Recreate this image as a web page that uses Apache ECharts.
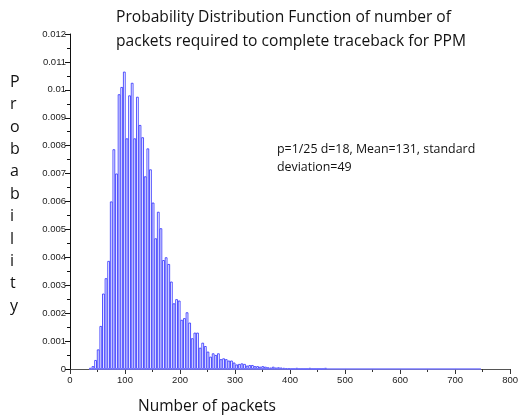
<!DOCTYPE html>
<html>
<head>
<meta charset="utf-8">
<script src="https://cdn.jsdelivr.net/npm/echarts@6/dist/echarts.min.js"></script>
<style>
  html, body { margin: 0; padding: 0; background: #fff; }
  #chart { width: 521px; height: 419px; }
</style>
</head>
<body>
<div id="chart"></div>
<script>
// histogram bins (centre of first bin, bin width, in packets)
var binStart = 37;
var binWidth = 4.75;
// end of the plotted histogram range (zero bars drawn as a baseline)
var rangeEnd = 747;

// probability read per bin
var probValues = [
  0.00004, 0.0001, 0.00032, 0.0007, 0.00154, 0.0027, 0.00325, 0.00387, 0.0060, 0.00787,
  0.0070, 0.00984, 0.0101, 0.01065, 0.00826, 0.0098, 0.01025, 0.00826, 0.00975, 0.00874,
  0.0083, 0.0069, 0.0079, 0.00715, 0.00596, 0.00468, 0.00563, 0.00504, 0.0039, 0.0040,
  0.00376, 0.00313, 0.00235, 0.0025, 0.00245, 0.00176, 0.00182, 0.00203, 0.00166, 0.0011,
  0.0013, 0.0013, 0.00076, 0.00094, 0.00082, 0.00062, 0.00044, 0.00056, 0.0005, 0.00056,
  0.00035, 0.00038, 0.00035, 0.0003, 0.0003, 0.00023, 0.00016, 0.00018, 0.0002, 0.00018,
  0.00012, 0.00014, 0.00014, 0.0001, 0.0001, 0.00008, 0.0001, 0.00008, 0.00006, 0.00005,
  0.00008, 0.00005, 0.00006, 0.00005, 0.00004, 0.00003, 0.00002, 0, 0, 0.00004,
  0, 0, 0, 0, 0.00004, 0, 0, 0, 0, 0,
  0.00004
];

var xTicks = [0, 100, 200, 300, 400, 500, 600, 700, 800];
var yTicks = [0, 0.001, 0.002, 0.003, 0.004, 0.005, 0.006, 0.007, 0.008, 0.009, 0.01, 0.011, 0.012];

var titleLines = ['Probability Distribution Function of number of', 'packets required to complete traceback for PPM'];
var noteLines = ['p=1/25 d=18, Mean=131, standard', 'deviation=49'];
var yName = 'Probability';
var xName = 'Number of packets';

var barData = probValues.map(function (v, i) {
  return [binStart + i * binWidth, v];
});

var gridLeft = 70, gridRight = 10, gridTop = 34, gridBottom = 50;
var plotWidth = 521 - gridLeft - gridRight;
var barPx = plotWidth / (xTicks[xTicks.length - 1] - xTicks[0]) * binWidth;

var labelFont = { fontFamily: 'Liberation Sans', fontSize: 9.5, color: '#222' };
var textFont = 'Open Sans';

var chart = echarts.init(document.getElementById('chart'));
chart.setOption({
  animation: false,
  backgroundColor: '#fff',
  grid: { left: gridLeft, right: gridRight, top: gridTop, bottom: gridBottom },
  xAxis: {
    type: 'value',
    min: xTicks[0],
    max: xTicks[xTicks.length - 1],
    interval: 100,
    axisLine: { onZero: false, lineStyle: { color: '#555', width: 1 } },
    axisTick: { show: true, length: 5, lineStyle: { color: '#333' } },
    minorTick: { show: true, splitNumber: 2, length: 3, lineStyle: { color: '#333' } },
    splitLine: { show: false },
    axisLabel: Object.assign({ margin: 6 }, labelFont)
  },
  yAxis: {
    type: 'value',
    min: yTicks[0],
    max: yTicks[yTicks.length - 1],
    interval: 0.001,
    axisLine: { show: true, lineStyle: { color: '#111', width: 1 } },
    axisTick: { show: true, length: 5, lineStyle: { color: '#111' } },
    minorTick: { show: true, splitNumber: 2, length: 3, lineStyle: { color: '#111' } },
    splitLine: { show: false },
    axisLabel: Object.assign({ margin: 4 }, labelFont)
  },
  series: [{
    type: 'bar',
    data: barData,
    barWidth: barPx,
    itemStyle: { color: '#fff', borderColor: '#2a2aff', borderWidth: 0.8 },
    markLine: {
      silent: true,
      symbol: 'none',
      label: { show: false },
      lineStyle: { color: '#7a7aff', type: 'solid', width: 1.5 },
      data: [[{ coord: [binStart - binWidth / 2, 0] }, { coord: [rangeEnd, 0] }]]
    }
  }],
  graphic: [
    {
      type: 'text', left: 116, top: 6,
      style: {
        text: titleLines.join('\n'), font: '15.6px "' + textFont + '"',
        fill: '#111', lineHeight: 24
      }
    },
    {
      type: 'text', left: 277, top: 140,
      style: { text: noteLines.join('\n'), font: '12.4px "' + textFont + '"', fill: '#111', lineHeight: 18 }
    },
    {
      type: 'text', left: 10, top: 71,
      style: {
        text: yName.split('').join('\n'), font: '16px "' + textFont + '"',
        fill: '#111', lineHeight: 22.4, align: 'center', width: 16
      }
    },
    {
      type: 'text', left: 138, top: 399,
      style: { text: xName, font: '15.5px "' + textFont + '"', fill: '#111' }
    }
  ]
});
</script>
</body>
</html>
